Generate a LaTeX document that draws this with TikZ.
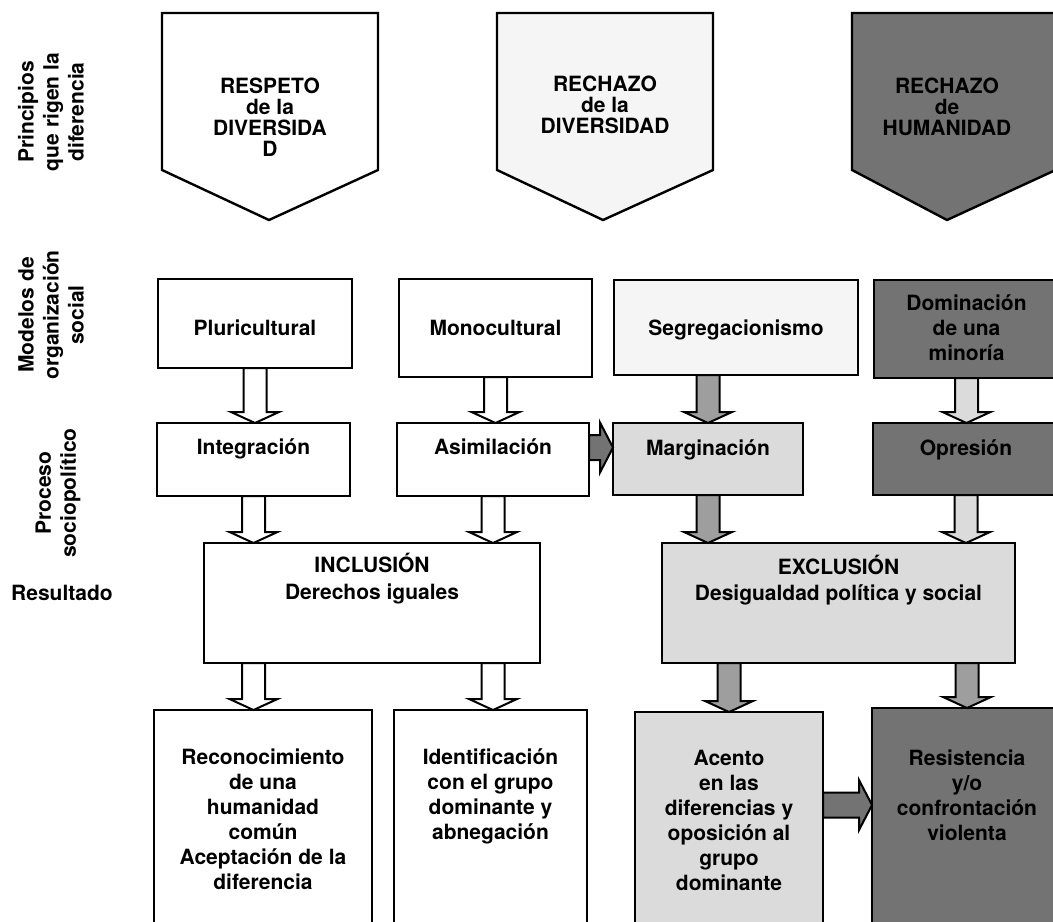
\documentclass[tikz,border=0pt]{standalone}
\usepackage{fontspec}
\setmainfont{TeX Gyre Heros}
\usetikzlibrary{calc}

\definecolor{halfpale}{gray}{0.96}
\definecolor{halflight}{gray}{0.86}
\definecolor{halfmid}{gray}{0.62}
\definecolor{halfdark}{gray}{0.45}

% box content: width, height, first baseline, text
\newcommand{\cell}[4]{\parbox[c][#2][t]{#1}{\centering\rule{0pt}{#3}#4}}

% block arrows: start, end, fill
\newcommand{\vblock}[3]{%
\draw[blockarrow, fill=#3] let \p1=(#1), \p2=(#2) in
  (\x1-5.75pt,\y1) -- (\x1-5.75pt,\y2+5.5pt) -- (\x1-12pt,\y2+5.5pt) -- (\x1,\y2)
  -- (\x1+12pt,\y2+5.5pt) -- (\x1+5.75pt,\y2+5.5pt) -- (\x1+5.75pt,\y1) -- cycle;}
\newcommand{\hblock}[3]{%
\draw[blockarrow, fill=#3] let \p1=(#1), \p2=(#2) in
  (\x1,\y1+6.25pt) -- (\x2-6.5pt,\y1+6.25pt) -- (\x2-6.5pt,\y1+12.5pt) -- (\x2,\y1)
  -- (\x2-6.5pt,\y1-12.5pt) -- (\x2-6.5pt,\y1-6.25pt) -- (\x1,\y1-6.25pt) -- cycle;}

\begin{document}
\begin{tikzpicture}[x=0.5pt, y=-0.5pt, font=\fontsize{10.5}{12.5}\selectfont\bfseries,
  box/.style={draw, line width=1pt, inner sep=0pt, outer sep=0pt, anchor=north west},
  blockarrow/.style={draw, line width=1pt, line join=miter}]
\useasboundingbox (0,0) rectangle (1053,921);

% row labels
{
\node[rotate=90, align=center] (principios) at (51,112) {Principios\\que rigen la\\diferencia};
\node[rotate=90, align=center] (modelos) at (51,315) {Modelos de\\organización\\social};
\node[rotate=90, align=center] (proceso) at (58,493) {Proceso\\sociopolítico};
\node (resultado) at (62,593) {Resultado};
}

% principles
{
\filldraw[fill=white, line width=1.2pt] (162,13) -- (378,13) -- (378,170) -- (269,220) -- (162,170) -- cycle;
\filldraw[fill=halfpale, line width=1.2pt] (497,13) -- (713,13) -- (713,170) -- (603,220) -- (497,170) -- cycle;
\filldraw[fill=halfdark, line width=1.2pt] (852,13) -- (1060,13) -- (1060,168) -- (947,220) -- (852,170) -- cycle;

\node[align=center] (respeto) at (270,117) {RESPETO\\[-2pt]de la\\[-2pt]DIVERSIDA\\[-2pt]D};
\node[align=center] (rechdiv) at (605,105) {RECHAZO\\[-2pt]de la\\[-2pt]DIVERSIDAD};
\node[align=center] (rechhum) at (947,107) {RECHAZO\\[-2pt]de\\[-2pt]HUMANIDAD};
}

% models
\node[box] (plur) at (158,279) {\cell{97pt}{44.5pt}{28pt}{Pluricultural}};
\node[box] (mono) at (399,279) {\cell{96.5pt}{49pt}{28pt}{Monocultural}};
\node[box, fill=halfpale] (segr) at (614,280) {\cell{122pt}{47.5pt}{27.5pt}{Segregacionismo}};
\node[box, fill=halfdark] (domi) at (874,280) {\cell{92.5pt}{49pt}{15pt}{Dominación\\de una\\minoría}};

% processes
\node[box] (integ) at (157,423) {\cell{96.5pt}{36.5pt}{15.5pt}{Integración}};
\node[box] (asim) at (397,423) {\cell{96pt}{36.5pt}{15.5pt}{Asimilación}};
\node[box, fill=halflight] (marg) at (613,423) {\cell{95pt}{36pt}{16pt}{Marginación}};
\node[box, fill=halfdark] (opre) at (873,423) {\cell{93pt}{36pt}{16pt}{Opresión}};

% results
\node[box] (incl) at (204,543) {\cell{168pt}{60pt}{14.5pt}{INCLUSIÓN\\[1pt]Derechos iguales}};
\node[box, fill=halflight] (excl) at (662,543) {\cell{176.5pt}{60pt}{15.5pt}{EXCLUSIÓN\\[0.5pt]Desigualdad política y social}};

% consequences
\node[box] (reco) at (154,710) {\cell{109pt}{130pt}{27pt}{Reconocimiento\\de una\\humanidad\\común\\Aceptación de la\\diferencia}};
\node[box] (iden) at (394,710) {\cell{96.5pt}{130pt}{27pt}{Identificación\\con el grupo\\dominante y\\abnegación}};
\node[box, fill=halflight] (acen) at (635,712) {\cell{94pt}{130pt}{26.5pt}{Acento\\en las\\diferencias y\\oposición al\\grupo\\dominante}};
\node[box, fill=halfdark] (resi) at (872,708) {\cell{95pt}{130pt}{28.5pt}{Resistencia\\y/o\\confrontación\\violenta}};

% arrows
\vblock{plur.south}{integ.north}{white}
\vblock{mono.south}{asim.north}{white}
\vblock{marg.north |- segr.south}{marg.north}{halfmid}
\vblock{domi.south}{opre.north}{halflight}

\hblock{[yshift=6pt]asim.east}{marg.west}{halfdark}

\vblock{integ.south}{incl.north}{white}
\vblock{asim.south}{incl.north}{white}
\vblock{marg.south}{excl.north}{halfmid}
\vblock{opre.south}{excl.north}{halflight}

\vblock{integ.south |- incl.south}{reco.north}{white}
\vblock{asim.south |- incl.south}{iden.north}{white}
\vblock{acen.north |- excl.south}{acen.north}{halfmid}
\vblock{resi.north |- excl.south}{resi.north}{halfmid}

\hblock{[yshift=-46.5pt]acen.north east}{resi.west}{halfdark}

\end{tikzpicture}
\end{document}
